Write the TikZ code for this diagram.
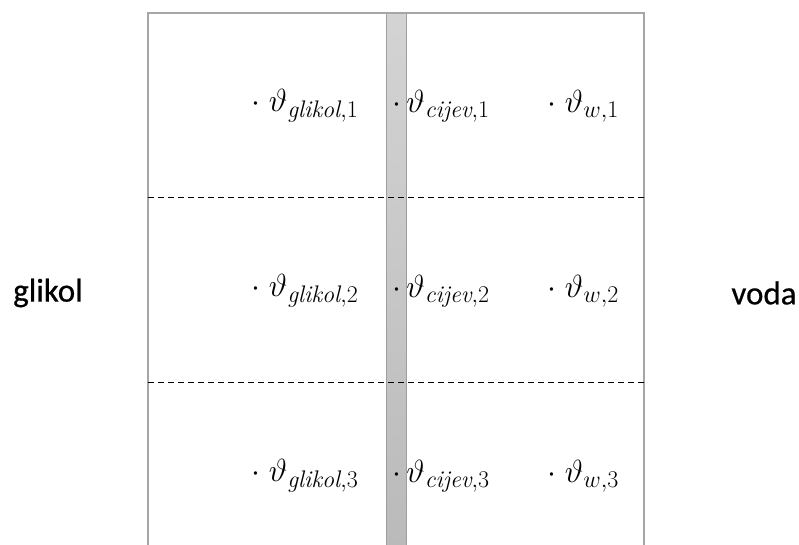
\RequirePackage{fix-cm}
\documentclass[tikz,border=0pt]{standalone}
\usepackage{fontspec}
\DeclareMathSizes{32}{32}{24}{18}
\newfontfamily\labelfont[FakeBold=0.6]{Carlito}
\tikzset{
  frame/.style={draw=black!35, line width=2pt},
  sep/.style={draw=black, line width=1.6pt, dash pattern=on 6pt off 4pt},
  tlabel/.style={anchor=west, inner sep=0pt, font=\fontsize{32}{36}\selectfont},
  side/.style={inner sep=0pt, font=\labelfont\fontsize{33}{38}\selectfont}
}
\begin{document}
\begin{tikzpicture}[x=1pt,y=-1pt]
\useasboundingbox (0,0) rectangle (799,545);
% tube wall
\shade[top color=black!17, bottom color=black!27, draw=black!38, line width=1pt]
  (386,13) rectangle (406,546);
% frame
\draw[frame] (148,546) -- (148,13) -- (644,13) -- (644,546);
% separators
\coordinate (s1l) at (148,197.5);
\coordinate (s1r) at (644,197.5);
\coordinate (s2l) at (148,382.5);
\coordinate (s2r) at (644,382.5);
\draw[sep] (s1l) -- (s1r);
\draw[sep] (s2l) -- (s2r);
% labels
\foreach \i/\y in {1/106,2/291,3/476}{
  \node[tlabel] (g\i) at (251,\y) {$\cdot\;\vartheta_{\mathit{glikol},\i}$};
  \node[tlabel] (c\i) at (392,\y) {$\cdot\,\vartheta_{\mathit{cijev},\i}$};
  \node[tlabel] (w\i) at (547,\y) {$\cdot\;\vartheta_{w,\i}$};
}
\node[side] (glikol) at (48,293) {glikol};
\node[side] (voda) at (764,293) {voda};
\end{tikzpicture}
\end{document}
